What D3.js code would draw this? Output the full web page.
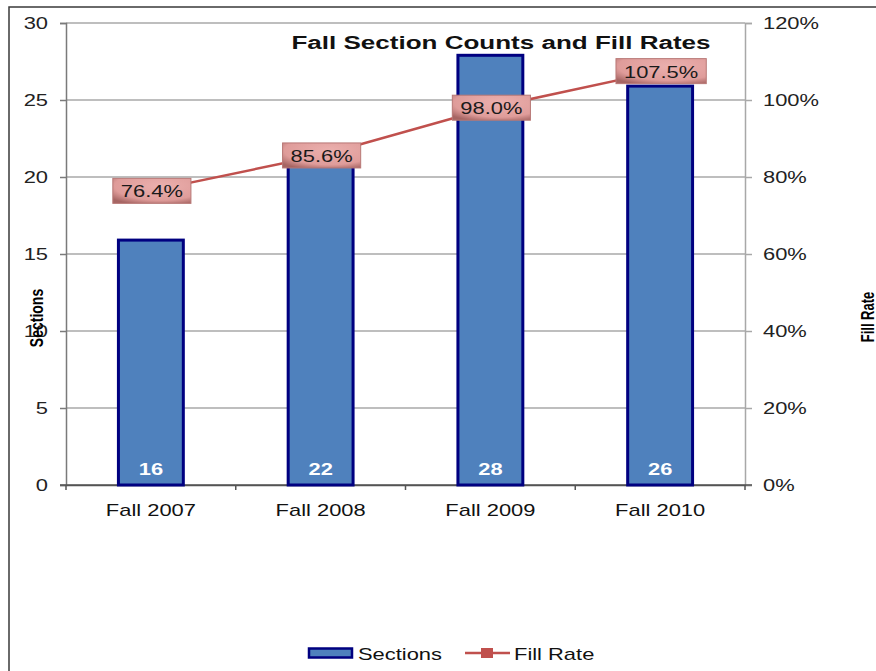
<!DOCTYPE html>
<html><head><meta charset="utf-8">
<script src="https://cdn.jsdelivr.net/npm/d3@7"></script>
<style>html,body{margin:0;padding:0;background:#fff;}svg{display:block;}</style>
</head><body>
<svg id="chart" width="876" height="671"></svg>
<script>
const categories = ["Fall 2007", "Fall 2008", "Fall 2009", "Fall 2010"];
const sections = [16, 22, 28, 26];
const fillRate = [0.764, 0.856, 0.980, 1.075];
const leftTicks = [0, 5, 10, 15, 20, 25, 30];
const rightTicks = [0, 0.2, 0.4, 0.6, 0.8, 1.0, 1.2];
const titleText = "Fall Section Counts and Fill Rates";

const SX = 1.37;
const FONT = "'Liberation Sans', Arial, sans-serif";
const svg = d3.select("#chart");

const L = 66, R = 745, T = 23, B = 485;
const x = d3.scaleBand().domain(categories).range([L, R]).paddingInner(0.6).paddingOuter(0.3);
const yL = d3.scaleLinear().domain([0, 30]).range([B, T]);
const yR = d3.scaleLinear().domain([0, 1.2]).range([B, T]);
const cx = c => x(c) + x.bandwidth() / 2;

function txt(px, py, str, o = {}) {
  const t = svg.append("text")
    .attr("transform", `translate(${px},${py}) scale(${SX},1)` + (o.rot ? ` rotate(${o.rot})` : ""))
    .attr("text-anchor", o.anchor || "start")
    .attr("font-family", FONT)
    .attr("font-size", o.size || 16)
    .attr("font-weight", o.bold ? "bold" : "normal")
    .attr("fill", o.fill || "#000")
    .text(str);
  return t;
}

// defs
const defs = svg.append("defs");
const rg = defs.append("radialGradient").attr("id", "lbl").attr("cx", "60%").attr("cy", "30%").attr("r", "80%");
rg.append("stop").attr("offset", "0%").attr("stop-color", "#ebb0ae");
rg.append("stop").attr("offset", "72%").attr("stop-color", "#df9c9a");
rg.append("stop").attr("offset", "100%").attr("stop-color", "#a66563");

// outer frame
svg.append("rect").attr("x", 9).attr("y", 7).attr("width", 900).attr("height", 700)
  .attr("fill", "none").attr("stroke", "#3a3a3a").attr("stroke-width", 1.5);

// gridlines
svg.append("g").selectAll("line").data(leftTicks.filter(d => d > 0)).join("line")
  .attr("x1", L).attr("x2", R).attr("y1", d => yL(d)).attr("y2", d => yL(d))
  .attr("stroke", "#a8a8a8").attr("stroke-width", 1.5);

// left axis
const gl = svg.append("g").attr("transform", `translate(${L},0)`)
  .call(d3.axisLeft(yL).tickValues(leftTicks).tickSize(6).tickFormat(""));
gl.select(".domain").attr("stroke", "#7a7a7a").attr("stroke-width", 1.5);
gl.selectAll(".tick line").attr("stroke", "#7a7a7a").attr("stroke-width", 1.5);
leftTicks.forEach(t => txt(48, yL(t) + 6, String(t), { anchor: "end", size: 16, fill: "#222" }));

// right axis
const gr = svg.append("g").attr("transform", `translate(${R},0)`)
  .call(d3.axisRight(yR).tickValues(rightTicks).tickSize(7).tickFormat(""));
gr.select(".domain").attr("stroke", "#a8a8a8").attr("stroke-width", 1.5);
gr.selectAll(".tick line").attr("stroke", "#a8a8a8").attr("stroke-width", 1.5);
rightTicks.forEach(t => txt(763, yR(t) + 6, d3.format(".0%")(t), { size: 16, fill: "#222" }));

// x axis
const gx = svg.append("g").attr("transform", `translate(0,${B})`)
  .call(d3.axisBottom(x).tickSize(0).tickFormat(""));
gx.select(".domain").attr("stroke", "#555").attr("stroke-width", 1.5);
const bounds = d3.range(categories.length + 1).map(i => L + i * x.step());
svg.append("g").selectAll("line").data(bounds).join("line")
  .attr("x1", d => d).attr("x2", d => d).attr("y1", B).attr("y2", B + 5)
  .attr("stroke", "#555").attr("stroke-width", 1.5);
svg.append("line").attr("x1", 60).attr("x2", 752).attr("y1", B).attr("y2", B)
  .attr("stroke", "#555").attr("stroke-width", 1.5);
categories.forEach(c => txt(cx(c), 516, c, { anchor: "middle", size: 16, fill: "#111" }));

// bars
svg.append("g").selectAll("rect").data(categories).join("rect")
  .attr("x", c => x(c) + 1.5).attr("width", x.bandwidth() - 3)
  .attr("y", (c, i) => yL(sections[i]) + 1.5)
  .attr("height", (c, i) => B - yL(sections[i]) - 1.5)
  .attr("fill", "#4f81bd").attr("stroke", "#000080").attr("stroke-width", 3);
categories.forEach((c, i) => txt(cx(c), 475, String(sections[i]), { anchor: "middle", size: 16, bold: true, fill: "#fff" }));

// title
txt(501, 49, titleText, { anchor: "middle", size: 19, bold: true, fill: "#111" });

// line
const line = d3.line().x((d, i) => cx(categories[i])).y(d => yR(d));
svg.append("path").datum(fillRate).attr("d", line)
  .attr("fill", "none").attr("stroke", "#c0504d").attr("stroke-width", 2.5);
svg.append("g").selectAll("rect").data(fillRate).join("rect")
  .attr("x", (d, i) => cx(categories[i]) - 4).attr("y", d => yR(d) - 4)
  .attr("width", 8).attr("height", 8).attr("fill", "#c0504d");

// line labels
fillRate.forEach((v, i) => {
  const px = cx(categories[i]), py = yR(v);
  const g = svg.append("g");
  const r = g.append("rect");
  const t = txt(px + 1, py + 6.5, d3.format(".1%")(v), { anchor: "middle", size: 16, fill: "#1a1a1a" });
  const w = t.node().getComputedTextLength() * SX + 16;
  r.attr("x", px + 1 - w / 2).attr("y", py - 12.5).attr("width", w).attr("height", 25)
    .attr("fill", "url(#lbl)").attr("stroke", "#b87876").attr("stroke-width", 1);
  t.raise();
});

// axis titles
txt(43, 318, "Sections", { anchor: "middle", size: 14, bold: true, rot: -90 });
txt(874, 317, "Fill Rate", { anchor: "middle", size: 13, bold: true, rot: -90 });

// legend
svg.append("rect").attr("x", 309).attr("y", 648.5).attr("width", 43).attr("height", 9)
  .attr("fill", "#4f81bd").attr("stroke", "#000080").attr("stroke-width", 2.5);
txt(358, 660, "Sections", { size: 16, fill: "#111" });
svg.append("line").attr("x1", 465).attr("x2", 510).attr("y1", 653).attr("y2", 653)
  .attr("stroke", "#c0504d").attr("stroke-width", 2.5);
svg.append("rect").attr("x", 481).attr("y", 648).attr("width", 12).attr("height", 10).attr("fill", "#c0504d");
txt(514, 660, "Fill Rate", { size: 16, fill: "#111" });
</script>
</body></html>
